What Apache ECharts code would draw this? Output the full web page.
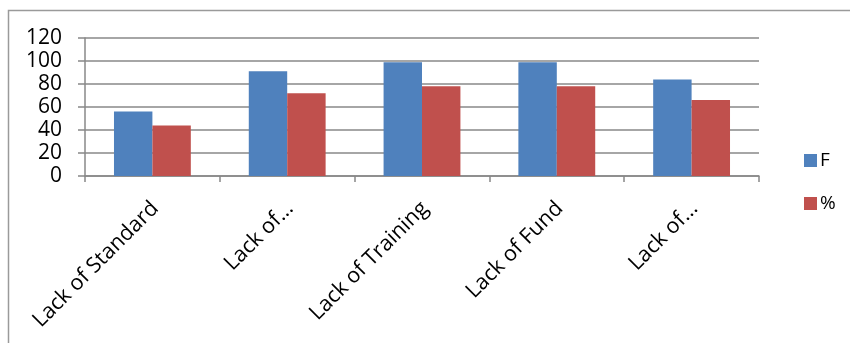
<!DOCTYPE html>
<html>
<head>
<meta charset="utf-8">
<script src="https://cdn.jsdelivr.net/npm/echarts@6/dist/echarts.min.js"></script>
<style>
  html, body { margin: 0; padding: 0; background: #ffffff; }
  #chart { width: 850px; height: 343px; }
</style>
</head>
<body>
<div id="chart"></div>
<script>
// Barriers and their counts (F) with percentages (%)
const categories = ['Lack of Standard', 'Lack of...', 'Lack of Training', 'Lack of Fund', 'Lack of...'];
const valuesF = [56, 91, 99, 99, 84];
const valuesPct = [44, 72, 78, 78, 66];
const yTicks = { min: 0, max: 120, step: 20 };

const gray = '#888888';
const font = 'Open Sans';

const chart = echarts.init(document.getElementById('chart'));
chart.setOption({
  animation: false,
  backgroundColor: '#ffffff',
  graphic: [{
    type: 'rect',
    shape: { x: 8.5, y: 10.5, width: 900, height: 400 },
    style: { fill: 'none', stroke: '#9a9a9a', lineWidth: 1.5 },
    silent: true
  }],
  grid: { left: 85, right: 91, top: 38, bottom: 167, containLabel: false },
  legend: {
    orient: 'vertical',
    left: 799,
    top: 146,
    itemWidth: 13,
    itemHeight: 13,
    itemGap: 24,
    icon: 'rect',
    textStyle: { fontFamily: font, fontSize: 19, color: '#000', padding: [0, 0, 0, -2] },
    data: ['F', '%']
  },
  xAxis: {
    type: 'category',
    data: categories,
    axisLine: { lineStyle: { color: gray, width: 1.5 } },
    axisTick: { show: true, length: 6, lineStyle: { color: gray, width: 1.5 } },
    axisLabel: {
      interval: 0,
      rotate: 45,
      margin: 32,
      fontFamily: font,
      fontSize: 21.5,
      color: '#000',
      padding: [0, -4, 0, 0]
    }
  },
  yAxis: {
    type: 'value',
    min: yTicks.min,
    max: yTicks.max,
    interval: yTicks.step,
    axisLine: { show: true, lineStyle: { color: gray, width: 1.5 } },
    axisTick: { show: true, length: 7, lineStyle: { color: gray, width: 1.5 } },
    splitLine: { show: true, lineStyle: { color: gray, width: 1.5 } },
    axisLabel: {
      margin: 23,
      fontFamily: font,
      fontSize: 21,
      color: '#000'
    }
  },
  series: [
    {
      name: 'F',
      type: 'bar',
      data: valuesF,
      barGap: '0%',
      barCategoryGap: '43%',
      itemStyle: { color: '#4F81BD' }
    },
    {
      name: '%',
      type: 'bar',
      data: valuesPct,
      itemStyle: { color: '#C0504D' }
    }
  ]
});
</script>
</body>
</html>
